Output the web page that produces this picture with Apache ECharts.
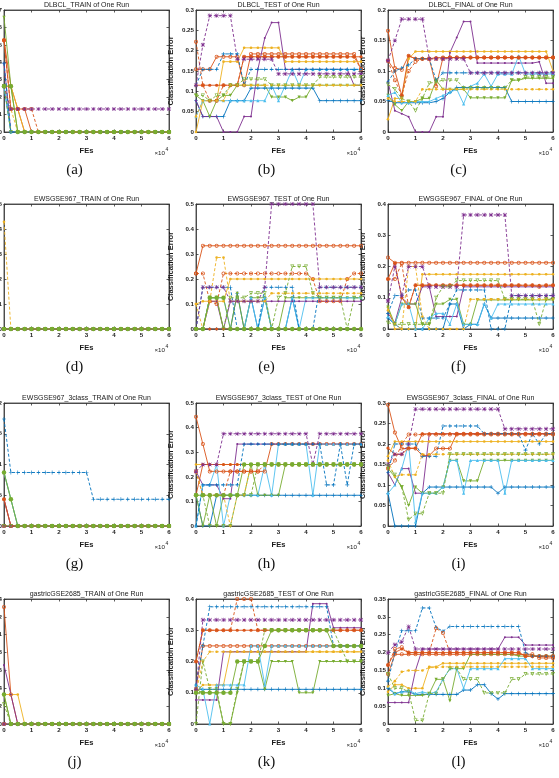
<!DOCTYPE html>
<html><head><meta charset="utf-8">
<script src="https://cdn.jsdelivr.net/npm/echarts/dist/echarts.min.js"></script>
<style>html,body{margin:0;padding:0;background:#fff}#c{width:559px;height:778px}</style>
</head><body><div id="c"></div>
<script>
const FES = [0,2500,5000,7500,10000,12500,15000,17500,20000,22500,25000,27500,30000,32500,35000,37500,40000,42500,45000,47500,50000,52500,55000,57500,60000];
const X_TICK_LABELS = ['0','1','2','3','4','5','6'];
const TITLES = ['DLBCL_TRAIN of One Run','DLBCL_TEST of One Run','DLBCL_FINAL of One Run',
  'EWSGSE967_TRAIN of One Run','EWSGSE967_TEST of One Run','EWSGSE967_FINAL of One Run',
  'EWSGSE967_3class_TRAIN of One Run','EWSGSE967_3class_TEST of One Run','EWSGSE967_3class_FINAL of One Run',
  'gastricGSE2685_TRAIN of One Run','gastricGSE2685_TEST of One Run','gastricGSE2685_FINAL of One Run'];
const CAPTIONS = ['(a)','(b)','(c)','(d)','(e)','(f)','(g)','(h)','(i)','(j)','(k)','(l)'];
const Y_MAX = [0.07,0.3,0.2, 0.5,0.5,0.4, 0.2,0.5,0.3, 0.14,0.4,0.35];
const Y_STEP = [0.01,0.05,0.05, 0.1,0.1,0.1, 0.05,0.1,0.05, 0.02,0.1,0.05];

const DLBCL_TRAIN = [
[0.0263,0,0,0,0, 0,0,0,0,0, 0,0,0,0,0, 0,0,0,0,0, 0,0,0,0,0],
[0.0526,0.0263,0.0132,0,0, 0,0,0,0,0, 0,0,0,0,0, 0,0,0,0,0, 0,0,0,0,0],
[0.0263,0.0263,0.0132,0,0, 0,0,0,0,0, 0,0,0,0,0, 0,0,0,0,0, 0,0,0,0,0],
[0.0395,0,0,0,0, 0,0,0,0,0, 0,0,0,0,0, 0,0,0,0,0, 0,0,0,0,0],
[0.0658,0.0263,0,0,0, 0,0,0,0,0, 0,0,0,0,0, 0,0,0,0,0, 0,0,0,0,0],
[0.0263,0,0,0,0, 0,0,0,0,0, 0,0,0,0,0, 0,0,0,0,0, 0,0,0,0,0],
[0.0526,0.0132,0.0132,0.0132,0, 0,0,0,0,0, 0,0,0,0,0, 0,0,0,0,0, 0,0,0,0,0],
[0.0395,0,0,0,0, 0,0,0,0,0, 0,0,0,0,0, 0,0,0,0,0, 0,0,0,0,0],
[0.0526,0.0132,0.0132,0.0132,0.0132, 0,0,0,0,0, 0,0,0,0,0, 0,0,0,0,0, 0,0,0,0,0],
[0.0263,0.0132,0,0,0, 0,0,0,0,0, 0,0,0,0,0, 0,0,0,0,0, 0,0,0,0,0],
[0.0263,0.0132,0.0132,0.0132,0.0132, 0.0132,0.0132,0.0132,0.0132,0.0132, 0.0132,0.0132,0.0132,0.0132,0.0132, 0.0132,0.0132,0.0132,0.0132,0.0132, 0.0132,0.0132,0.0132,0.0132,0.0132],
[0.0263,0,0,0,0, 0,0,0,0,0, 0,0,0,0,0, 0,0,0,0,0, 0,0,0,0,0],
[0.0263,0.0263,0,0,0, 0,0,0,0,0, 0,0,0,0,0, 0,0,0,0,0, 0,0,0,0,0]
];
const DLBCL_TEST = [
[0.077,0.038,0.038,0.038,0.038, 0.077,0.077,0.077,0.108,0.108, 0.108,0.108,0.108,0.108,0.108, 0.108,0.108,0.108,0.077,0.077, 0.077,0.077,0.077,0.077,0.077],
[0.154,0.154,0.154,0.185,0.185, 0.185,0.185,0.115,0.192,0.192, 0.192,0.192,0.192,0.192,0.192, 0.192,0.192,0.192,0.192,0.192, 0.192,0.192,0.192,0.192,0.154],
[0,0.077,0.077,0.077,0.173, 0.173,0.173,0.207,0.207,0.207, 0.207,0.207,0.207,0.173,0.173, 0.173,0.173,0.173,0.173,0.173, 0.173,0.173,0.173,0.173,0.173],
[0.077,0.038,0.038,0.038,0, 0,0,0.038,0.038,0.154, 0.231,0.269,0.269,0.154,0.154, 0.154,0.154,0.154,0.154,0.154, 0.154,0.154,0.154,0.115,0.115],
[0.09,0.077,0.038,0.077,0.09, 0.09,0.115,0.115,0.115,0.115, 0.115,0.086,0.086,0.086,0.077, 0.086,0.086,0.115,0.115,0.115, 0.115,0.115,0.115,0.115,0.115],
[0.038,0.077,0.077,0.077,0.077, 0.077,0.077,0.077,0.077,0.077, 0.077,0.115,0.077,0.115,0.154, 0.115,0.154,0.154,0.154,0.154, 0.154,0.154,0.154,0.154,0.154],
[0.115,0.115,0.115,0.115,0.115, 0.115,0.115,0.185,0.185,0.185, 0.185,0.185,0.185,0.185,0.185, 0.185,0.185,0.185,0.185,0.185, 0.185,0.185,0.185,0.185,0.185],
[0.115,0.154,0.154,0.154,0.192, 0.192,0.192,0.115,0.154,0.154, 0.154,0.154,0.154,0.154,0.154, 0.154,0.154,0.154,0.154,0.154, 0.154,0.154,0.154,0.154,0.154],
[0.222,0.115,0.077,0.077,0.115, 0.115,0.115,0.185,0.185,0.185, 0.185,0.185,0.185,0.185,0.185, 0.185,0.185,0.185,0.185,0.185, 0.185,0.185,0.185,0.185,0.154],
[0.038,0.077,0.077,0.077,0.077, 0.115,0.115,0.115,0.115,0.115, 0.115,0.115,0.115,0.115,0.115, 0.115,0.115,0.115,0.115,0.115, 0.115,0.115,0.115,0.115,0.115],
[0.115,0.214,0.286,0.286,0.286, 0.286,0.179,0.179,0.179,0.179, 0.179,0.179,0.143,0.143,0.143, 0.143,0.143,0.143,0.143,0.143, 0.143,0.143,0.143,0.143,0.143],
[0.09,0.09,0.077,0.09,0.09, 0.115,0.115,0.13,0.13,0.13, 0.13,0.115,0.115,0.115,0.115, 0.115,0.115,0.115,0.135,0.135, 0.135,0.135,0.135,0.135,0.135],
null
];
const DLBCL_FINAL = [
[0.052,0.048,0.048,0.048,0.048, 0.048,0.048,0.05,0.055,0.065, 0.073,0.073,0.073,0.073,0.073, 0.073,0.073,0.073,0.05,0.05, 0.05,0.05,0.05,0.05,0.05],
[0.166,0.105,0.102,0.125,0.12, 0.12,0.12,0.075,0.122,0.122, 0.122,0.122,0.122,0.122,0.122, 0.122,0.122,0.122,0.122,0.122, 0.122,0.122,0.122,0.122,0.122],
[0.021,0.055,0.055,0.12,0.132, 0.132,0.132,0.132,0.132,0.132, 0.132,0.132,0.132,0.132,0.132, 0.132,0.132,0.132,0.132,0.132, 0.132,0.132,0.132,0.132,0.1],
[0.082,0.035,0.03,0.025,0, 0,0,0.025,0.025,0.13, 0.155,0.181,0.181,0.113,0.113, 0.113,0.113,0.113,0.113,0.113, 0.113,0.113,0.115,0.08,0.08],
[0.06,0.045,0.035,0.05,0.05, 0.055,0.055,0.085,0.07,0.07, 0.07,0.07,0.056,0.056,0.056, 0.056,0.056,0.056,0.085,0.085, 0.088,0.088,0.088,0.088,0.088],
[0.06,0.065,0.048,0.048,0.05, 0.05,0.05,0.055,0.06,0.065, 0.07,0.046,0.075,0.08,0.095, 0.075,0.095,0.095,0.095,0.125, 0.095,0.095,0.095,0.095,0.095],
[0.117,0.1,0.06,0.125,0.12, 0.12,0.12,0.122,0.122,0.122, 0.122,0.122,0.122,0.122,0.122, 0.122,0.122,0.122,0.122,0.122, 0.122,0.122,0.122,0.122,0.122],
[0.082,0.1,0.105,0.11,0.12, 0.12,0.12,0.085,0.097,0.097, 0.097,0.097,0.097,0.097,0.097, 0.097,0.097,0.097,0.097,0.097, 0.097,0.097,0.097,0.097,0.097],
[0.117,0.085,0.06,0.1,0.115, 0.12,0.12,0.12,0.12,0.122, 0.122,0.122,0.122,0.122,0.122, 0.122,0.122,0.122,0.122,0.122, 0.122,0.122,0.122,0.122,0.122],
[0.055,0.05,0.05,0.05,0.05, 0.07,0.07,0.07,0.07,0.07, 0.07,0.07,0.07,0.07,0.07, 0.07,0.07,0.07,0.07,0.07, 0.07,0.07,0.07,0.07,0.07],
[0.117,0.15,0.185,0.185,0.185, 0.185,0.12,0.12,0.12,0.12, 0.12,0.12,0.097,0.097,0.097, 0.097,0.097,0.097,0.097,0.097, 0.097,0.097,0.097,0.097,0.097],
[0.078,0.07,0.055,0.05,0.035, 0.055,0.08,0.082,0.085,0.085, 0.085,0.072,0.072,0.072,0.072, 0.072,0.072,0.072,0.085,0.085, 0.09,0.09,0.09,0.09,0.09],
null
];
const EWS_TRAIN = [
[0,0,0,0,0, 0,0,0,0,0, 0,0,0,0,0, 0,0,0,0,0, 0,0,0,0,0],
[0,0,0,0,0, 0,0,0,0,0, 0,0,0,0,0, 0,0,0,0,0, 0,0,0,0,0],
[0,0,0,0,0, 0,0,0,0,0, 0,0,0,0,0, 0,0,0,0,0, 0,0,0,0,0],
[0,0,0,0,0, 0,0,0,0,0, 0,0,0,0,0, 0,0,0,0,0, 0,0,0,0,0],
[0,0,0,0,0, 0,0,0,0,0, 0,0,0,0,0, 0,0,0,0,0, 0,0,0,0,0],
[0,0,0,0,0, 0,0,0,0,0, 0,0,0,0,0, 0,0,0,0,0, 0,0,0,0,0],
[0,0,0,0,0, 0,0,0,0,0, 0,0,0,0,0, 0,0,0,0,0, 0,0,0,0,0],
[0,0,0,0,0, 0,0,0,0,0, 0,0,0,0,0, 0,0,0,0,0, 0,0,0,0,0],
[0,0,0,0,0, 0,0,0,0,0, 0,0,0,0,0, 0,0,0,0,0, 0,0,0,0,0],
[0.4286,0,0,0,0, 0,0,0,0,0, 0,0,0,0,0, 0,0,0,0,0, 0,0,0,0,0],
[0,0,0,0,0, 0,0,0,0,0, 0,0,0,0,0, 0,0,0,0,0, 0,0,0,0,0],
[0,0,0,0,0, 0,0,0,0,0, 0,0,0,0,0, 0,0,0,0,0, 0,0,0,0,0],
[0,0,0,0,0, 0,0,0,0,0, 0,0,0,0,0, 0,0,0,0,0, 0,0,0,0,0]
];
const EWS_TEST = [
[0,0,0,0,0, 0,0.143,0,0.125,0, 0.125,0,0,0,0.125, 0,0,0,0,0, 0,0,0,0,0],
[0.222,0.333,0.333,0.333,0.333, 0.333,0.333,0.333,0.333,0.333, 0.333,0.333,0.333,0.333,0.333, 0.333,0.333,0.333,0.333,0.333, 0.333,0.333,0.333,0.333,0.333],
[0.1,0.111,0.111,0.111,0.111, 0.2,0.2,0.2,0.2,0.2, 0.2,0.2,0.2,0.2,0.2, 0.2,0.2,0.2,0.2,0.2, 0.2,0.2,0.2,0.2,0.2],
[0,0,0.111,0.111,0, 0.111,0.111,0.111,0.111,0.111, 0.111,0.111,0.111,0.111,0.111, 0.111,0.111,0.111,0.111,0.111, 0.111,0.111,0.111,0.111,0.111],
[0,0,0.125,0.125,0, 0,0.143,0,0.125,0.125, 0.125,0,0,0.125,0.125, 0.125,0.125,0.125,0.125,0.125, 0.125,0.125,0.125,0.125,0.125],
[0,0,0.125,0.125,0.125, 0,0,0,0.125,0, 0.125,0,0,0,0.125, 0,0.125,0.125,0.125,0.125, 0.125,0.125,0.125,0.125,0.125],
[0,0,0,0,0, 0,0,0,0,0, 0,0,0,0,0, 0,0,0,0,0, 0,0,0,0,0],
[0,0.167,0.167,0.167,0.167, 0.167,0,0,0,0, 0.167,0.167,0.167,0.167,0.167, 0,0,0,0.167,0.167, 0.167,0.167,0.167,0.167,0.167],
[0.222,0.222,0.111,0.1,0.222, 0.222,0.222,0.222,0.222,0.222, 0.222,0.222,0.222,0.222,0.222, 0.222,0.222,0.2,0.111,0.111, 0.111,0.111,0.2,0.222,0.222],
[0.1,0,0.111,0.286,0.286, 0.111,0.111,0.111,0.111,0.111, 0.111,0.143,0.143,0.143,0.143, 0.143,0.143,0.143,0.143,0.143, 0.143,0.143,0.143,0.143,0.143],
[0,0.167,0.167,0.167,0.167, 0.111,0.111,0.111,0.111,0.111, 0.167,0.5,0.5,0.5,0.5, 0.5,0.5,0.5,0.167,0.167, 0.167,0.167,0.167,0.167,0.167],
[0,0,0.125,0.125,0, 0.125,0.125,0.125,0.143,0.143, 0.143,0,0.125,0.143,0.25, 0.25,0.25,0.143,0.125,0.125, 0.125,0.125,0,0.125,0.125],
[0,0,0.125,0.125,0.125, 0,0,0,0,0, 0,0,0,0,0, 0,0,0,0,0, 0,0,0,0,0]
];
const EWS_FINAL = [
[0.035,0.015,0,0,0, 0,0,0,0,0.08, 0.08,0,0.015,0.015,0.08, 0.035,0.035,0.035,0.035,0.035, 0.035,0.035,0.035,0.035,0.035],
[0.229,0.212,0.212,0.212,0.212, 0.212,0.212,0.212,0.212,0.212, 0.212,0.212,0.212,0.212,0.212, 0.212,0.212,0.212,0.212,0.212, 0.212,0.212,0.212,0.212,0.212],
[0.07,0,0,0,0, 0.175,0.175,0.175,0.175,0.175, 0.175,0.175,0.175,0.175,0.175, 0.175,0.175,0.175,0.175,0.175, 0.175,0.175,0.175,0.175,0.175],
[0.05,0.02,0.1,0.08,0.08, 0.135,0.135,0.04,0.04,0.04, 0.04,0.135,0.135,0.135,0.135, 0.135,0.135,0.135,0.135,0.135, 0.135,0.135,0.135,0.135,0.135],
[0.07,0.015,0.08,0.08,0.08, 0.015,0.015,0.08,0.08,0.095, 0.095,0.015,0.015,0.093,0.093, 0.093,0.093,0.093,0.093,0.093, 0.093,0.093,0.093,0.093,0.093],
[0.04,0.015,0.08,0.08,0, 0,0.035,0.05,0.05,0.015, 0.08,0.015,0.015,0.015,0.08, 0.035,0.08,0.08,0.08,0.08, 0.08,0.08,0.08,0.08,0.08],
[0.16,0.21,0.1,0.07,0.14, 0.14,0.14,0.14,0.14,0.14, 0.14,0.14,0.14,0.14,0.14, 0.14,0.14,0.14,0.14,0.14, 0.14,0.14,0.14,0.14,0.14],
[0.05,0.107,0.107,0.125,0.125, 0.035,0.035,0.035,0.035,0.08, 0.125,0.125,0.125,0.125,0.125, 0,0,0,0.107,0.107, 0.107,0.107,0.107,0.107,0.107],
[0.16,0.16,0.21,0.07,0.14, 0.14,0.14,0.14,0.14,0.14, 0.14,0.14,0.14,0.14,0.14, 0.14,0.14,0.14,0.14,0.14, 0.14,0.14,0.135,0.14,0.14],
[0.06,0.015,0,0.2,0.2, 0.04,0,0,0,0, 0,0,0.095,0.095,0.095, 0.095,0.095,0.095,0.095,0.095, 0.095,0.095,0.095,0.095,0.095],
[0.09,0.2,0.107,0.2,0.2, 0.2,0.135,0.135,0.135,0.135, 0.135,0.365,0.365,0.365,0.365, 0.365,0.365,0.365,0.107,0.107, 0.107,0.107,0.107,0.107,0.107],
[0.02,0.015,0.015,0.015,0.015, 0.015,0.015,0.1,0.135,0.135, 0.155,0.155,0.155,0.155,0.155, 0.155,0.155,0.095,0.095,0.095, 0.095,0.095,0.015,0.095,0.095],
null
];
const EWS3_TRAIN = [
[0,0,0,0,0, 0,0,0,0,0, 0,0,0,0,0, 0,0,0,0,0, 0,0,0,0,0],
[0.0435,0,0,0,0, 0,0,0,0,0, 0,0,0,0,0, 0,0,0,0,0, 0,0,0,0,0],
[0,0,0,0,0, 0,0,0,0,0, 0,0,0,0,0, 0,0,0,0,0, 0,0,0,0,0],
[0.0435,0,0,0,0, 0,0,0,0,0, 0,0,0,0,0, 0,0,0,0,0, 0,0,0,0,0],
[0.087,0.0435,0,0,0, 0,0,0,0,0, 0,0,0,0,0, 0,0,0,0,0, 0,0,0,0,0],
[0.087,0.0435,0,0,0, 0,0,0,0,0, 0,0,0,0,0, 0,0,0,0,0, 0,0,0,0,0],
[0.0435,0,0,0,0, 0,0,0,0,0, 0,0,0,0,0, 0,0,0,0,0, 0,0,0,0,0],
[0.1739,0.087,0.087,0.087,0.087, 0.087,0.087,0.087,0.087,0.087, 0.087,0.087,0.087,0.0435,0.0435, 0.0435,0.0435,0.0435,0.0435,0.0435, 0.0435,0.0435,0.0435,0.0435,0.0435],
[0,0,0,0,0, 0,0,0,0,0, 0,0,0,0,0, 0,0,0,0,0, 0,0,0,0,0],
[0,0,0,0,0, 0,0,0,0,0, 0,0,0,0,0, 0,0,0,0,0, 0,0,0,0,0],
[0,0,0,0,0, 0,0,0,0,0, 0,0,0,0,0, 0,0,0,0,0, 0,0,0,0,0],
[0,0,0,0,0, 0,0,0,0,0, 0,0,0,0,0, 0,0,0,0,0, 0,0,0,0,0],
[0.087,0.0435,0,0,0, 0,0,0,0,0, 0,0,0,0,0, 0,0,0,0,0, 0,0,0,0,0]
];
const EWS3_TEST = [
[0.125,0,0,0.125,0.125, 0.125,0.125,0.125,0.125,0.125, 0.125,0.125,0.125,0.125,0.125, 0.125,0.125,0.125,0.125,0.125, 0.125,0.125,0.125,0.125,0.125],
[0.444,0.333,0.222,0.222,0.222, 0.222,0.222,0.222,0.222,0.222, 0.222,0.333,0.333,0.333,0.333, 0.333,0.333,0.333,0.333,0.333, 0.333,0.333,0.333,0.333,0.333],
[0.25,0.25,0.25,0.25,0.25, 0.25,0.25,0.25,0.25,0.25, 0.25,0.25,0.25,0.25,0.25, 0.25,0.25,0.25,0.25,0.25, 0.25,0.25,0.25,0.25,0.25],
[0.222,0.167,0.167,0.167,0.111, 0.111,0.333,0.333,0.333,0.333, 0.333,0.333,0.333,0.333,0.333, 0.333,0.333,0.333,0.333,0.333, 0.333,0.333,0.333,0.333,0.333],
[0.125,0,0.125,0,0.125, 0.125,0.125,0.125,0.25,0.125, 0.125,0.125,0.125,0.25,0.25, 0.25,0.25,0.25,0.25,0.25, 0.25,0.25,0.25,0.25,0.25],
[0,0.167,0.167,0.25,0, 0.125,0.125,0.125,0.125,0.125, 0.25,0.125,0.333,0.333,0.333, 0.333,0.333,0.125,0.333,0.333, 0.333,0.333,0.333,0.333,0.333],
[0.125,0.25,0.25,0.25,0.25, 0.25,0.25,0.25,0.25,0.25, 0.25,0.25,0.25,0.25,0.25, 0.25,0.25,0.25,0.25,0.25, 0.25,0.25,0.25,0.25,0.25],
[0,0.167,0.167,0.167,0.167, 0.167,0.167,0.333,0.333,0.333, 0.333,0.333,0.333,0.333,0.333, 0.333,0.333,0.333,0.333,0.167, 0.167,0.333,0.167,0.333,0.333],
[0.222,0.125,0.125,0.125,0.125, 0.222,0.222,0.222,0.222,0.222, 0.25,0.25,0.25,0.25,0.25, 0.25,0.25,0.25,0.25,0.25, 0.25,0.25,0.25,0.25,0.25],
[0.222,0.125,0.125,0.125,0.125, 0,0.125,0.125,0.25,0.25, 0.25,0.25,0.25,0.25,0.25, 0.25,0.25,0.25,0.25,0.25, 0.25,0.25,0.25,0.25,0.25],
[0.222,0.25,0.25,0.25,0.375, 0.375,0.375,0.375,0.375,0.375, 0.375,0.375,0.375,0.375,0.375, 0.375,0.375,0.25,0.375,0.375, 0.375,0.375,0.375,0.375,0.375],
[0.125,0.125,0,0,0, 0,0.125,0.125,0.125,0.25, 0.25,0.25,0.25,0.25,0.25, 0.25,0.25,0.25,0.25,0.25, 0.25,0.25,0.25,0.25,0.25],
[0.125,0.125,0.125,0.125,0.125, 0.125,0.125,0.25,0.25,0.25, 0.25,0.25,0.25,0.25,0.25, 0.25,0.25,0.25,0.25,0.25, 0.25,0.25,0.25,0.25,0.25]
];
const EWS3_FINAL = [
[0.08,0,0,0,0, 0.08,0.095,0.095,0.095,0.095, 0.095,0.095,0.095,0.095,0.095, 0.095,0.08,0.095,0.095,0.095, 0.095,0.095,0.095,0.095,0.095],
[0.296,0.228,0.189,0.189,0.189, 0.172,0.172,0.189,0.189,0.189, 0.225,0.225,0.225,0.225,0.225, 0.225,0.225,0.225,0.225,0.225, 0.225,0.225,0.225,0.225,0.225],
[0.17,0.206,0.206,0.206,0.206, 0.206,0.206,0.206,0.206,0.206, 0.206,0.206,0.206,0.206,0.206, 0.206,0.206,0.206,0.206,0.206, 0.206,0.206,0.206,0.206,0.206],
[0.13,0.1,0.14,0.14,0.08, 0.08,0.225,0.225,0.225,0.225, 0.225,0.225,0.225,0.225,0.225, 0.225,0.225,0.225,0.225,0.225, 0.225,0.225,0.225,0.225,0.225],
[0.14,0.12,0.095,0.05,0.095, 0.08,0.08,0.08,0.095,0.16, 0.16,0.11,0.11,0.11,0.16, 0.16,0.16,0.16,0.16,0.16, 0.16,0.16,0.16,0.16,0.16],
[0.08,0.1,0.14,0.2,0.01, 0.08,0.08,0.08,0.095,0.16, 0.16,0.08,0.16,0.16,0.16, 0.16,0.16,0.08,0.16,0.16, 0.16,0.16,0.16,0.16,0.16],
[0.19,0.175,0.175,0.19,0.19, 0.225,0.225,0.225,0.225,0.225, 0.225,0.225,0.225,0.225,0.225, 0.225,0.225,0.225,0.225,0.225, 0.225,0.225,0.225,0.225,0.225],
[0.13,0.2,0.2,0.2,0.2, 0.17,0.17,0.17,0.244,0.244, 0.244,0.244,0.244,0.244,0.225, 0.225,0.225,0.225,0.225,0.225, 0.185,0.225,0.2,0.225,0.225],
[0.14,0.16,0.2,0.223,0.223, 0.223,0.223,0.223,0.223,0.223, 0.223,0.223,0.223,0.223,0.223, 0.223,0.223,0.223,0.223,0.223, 0.223,0.223,0.223,0.223,0.223],
[0.16,0.12,0.125,0.125,0.125, 0.175,0.175,0.175,0.175,0.175, 0.175,0.175,0.175,0.175,0.175, 0.175,0.175,0.175,0.175,0.175, 0.175,0.175,0.175,0.175,0.175],
[0.15,0.175,0.175,0.2,0.285, 0.285,0.285,0.285,0.285,0.285, 0.285,0.285,0.285,0.285,0.285, 0.285,0.285,0.237,0.237,0.237, 0.237,0.237,0.237,0.237,0.237],
[0.145,0.125,0.095,0.015,0.03, 0.03,0.08,0.08,0.08,0.175, 0.175,0.175,0.175,0.175,0.175, 0.175,0.175,0.175,0.175,0.175, 0.175,0.175,0.175,0.175,0.175],
null
];
const GAS_TRAIN = [
[0,0,0,0,0, 0,0,0,0,0, 0,0,0,0,0, 0,0,0,0,0, 0,0,0,0,0],
[0.131,0.033,0,0,0, 0,0,0,0,0, 0,0,0,0,0, 0,0,0,0,0, 0,0,0,0,0],
[0.033,0.033,0.033,0,0, 0,0,0,0,0, 0,0,0,0,0, 0,0,0,0,0, 0,0,0,0,0],
[0.066,0.033,0,0,0, 0,0,0,0,0, 0,0,0,0,0, 0,0,0,0,0, 0,0,0,0,0],
[0.033,0,0,0,0, 0,0,0,0,0, 0,0,0,0,0, 0,0,0,0,0, 0,0,0,0,0],
[0,0,0,0,0, 0,0,0,0,0, 0,0,0,0,0, 0,0,0,0,0, 0,0,0,0,0],
[0,0,0,0,0, 0,0,0,0,0, 0,0,0,0,0, 0,0,0,0,0, 0,0,0,0,0],
[0,0,0,0,0, 0,0,0,0,0, 0,0,0,0,0, 0,0,0,0,0, 0,0,0,0,0],
[0,0,0,0,0, 0,0,0,0,0, 0,0,0,0,0, 0,0,0,0,0, 0,0,0,0,0],
[0,0,0,0,0, 0,0,0,0,0, 0,0,0,0,0, 0,0,0,0,0, 0,0,0,0,0],
[0,0,0,0,0, 0,0,0,0,0, 0,0,0,0,0, 0,0,0,0,0, 0,0,0,0,0],
[0.022,0,0,0,0, 0,0,0,0,0, 0,0,0,0,0, 0,0,0,0,0, 0,0,0,0,0],
[0.033,0,0,0,0, 0,0,0,0,0, 0,0,0,0,0, 0,0,0,0,0, 0,0,0,0,0]
];
const GAS_TEST = [
[0.111,0.111,0.111,0.111,0.111, 0.111,0.111,0.111,0.111,0.111, 0.111,0.111,0.111,0.111,0.111, 0.111,0.111,0.111,0.111,0.111, 0.111,0.111,0.111,0.111,0.111],
[0.111,0.25,0.25,0.25,0.25, 0.25,0.25,0.25,0.25,0.25, 0.25,0.25,0.25,0.25,0.25, 0.25,0.25,0.25,0.25,0.25, 0.25,0.25,0.25,0.25,0.25],
[0.1,0.125,0.125,0.125,0.125, 0.231,0.231,0.231,0.231,0.231, 0.231,0.231,0.231,0.231,0.231, 0.231,0.231,0.231,0.231,0.231, 0.231,0.231,0.231,0.231,0.231],
[0.077,0.077,0.077,0.077,0.231, 0.231,0.231,0.231,0.231,0.231, 0.231,0.231,0.231,0.231,0.231, 0.231,0.231,0.385,0.385,0.385, 0.308,0.308,0.308,0.308,0.308],
[0.111,0.1,0.1,0.1,0, 0,0.1,0.2,0.2,0.2, 0.111,0.2,0.2,0.2,0.2, 0.1,0.1,0.1,0.2,0.2, 0.2,0.2,0.2,0.2,0.2],
[0.125,0.111,0,0.125,0.125, 0.125,0.125,0.125,0.25,0.25, 0.125,0.25,0.25,0.25,0.25, 0.25,0.25,0.25,0.25,0.25, 0.25,0.25,0.25,0.25,0.25],
[0.2,0.3,0.3,0.3,0.3, 0.3,0.3,0.3,0.3,0.3, 0.3,0.3,0.3,0.3,0.3, 0.3,0.3,0.3,0.3,0.3, 0.3,0.3,0.3,0.3,0.3],
[0.125,0.25,0.375,0.375,0.375, 0.375,0.375,0.375,0.375,0.375, 0.375,0.375,0.375,0.375,0.375, 0.375,0.375,0.375,0.375,0.375, 0.25,0.25,0.25,0.25,0.25],
[0.2,0.3,0.3,0.3,0.3, 0.3,0.4,0.4,0.4,0.3, 0.3,0.3,0.3,0.3,0.3, 0.3,0.3,0.3,0.3,0.3, 0.3,0.3,0.3,0.3,0.3],
[0.1,0.2,0.231,0.231,0.231, 0.231,0.231,0.231,0.231,0.231, 0.231,0.231,0.231,0.231,0.231, 0.231,0.231,0.231,0.231,0.231, 0.231,0.231,0.231,0.231,0.231],
[0.111,0.333,0.333,0.333,0.333, 0.333,0.333,0.333,0.333,0.333, 0.333,0.333,0.333,0.333,0.333, 0.333,0.333,0.333,0.333,0.333, 0.333,0.333,0.333,0.333,0.333],
[0,0.2,0.111,0.111,0, 0,0.111,0.2,0.2,0.2, 0.3,0.3,0.3,0.3,0.3, 0.3,0.3,0.3,0.3,0.3, 0.3,0.25,0.2,0.2,0.2],
[0.1,0.1,0.1,0.1,0.1, 0.1,0.2,0.2,0.2,0.2, 0.25,0.3,0.3,0.3,0.3, 0.3,0.3,0.3,0.3,0.3, 0.25,0.25,0.25,0.25,0.25]
];
const GAS_FINAL = [
[0.1,0.085,0.09,0.09,0.083, 0.083,0.083,0.083,0.083,0.083, 0.083,0.095,0.095,0.11,0.11, 0.085,0.07,0.085,0.085,0.085, 0.085,0.085,0.085,0.085,0.085],
[0.14,0.195,0.195,0.195,0.195, 0.195,0.195,0.195,0.195,0.195, 0.195,0.195,0.195,0.195,0.195, 0.195,0.195,0.195,0.195,0.195, 0.195,0.195,0.185,0.185,0.185],
[0.09,0.11,0.11,0.1,0.1, 0.1,0.16,0.16,0.17,0.17, 0.17,0.17,0.17,0.17,0.17, 0.17,0.17,0.17,0.17,0.17, 0.17,0.17,0.17,0.17,0.17],
[0.06,0.06,0.06,0.06,0.15, 0.21,0.21,0.21,0.21,0.21, 0.21,0.21,0.21,0.21,0.21, 0.21,0.21,0.243,0.243,0.243, 0.221,0.221,0.221,0.221,0.221],
[0.08,0.085,0.08,0.08,0.08, 0.08,0.085,0.125,0.125,0.065, 0.155,0.155,0.195,0.195,0.195, 0.195,0.195,0.195,0.195,0.19, 0.19,0.19,0.19,0.19,0.19],
[0.105,0.085,0.09,0.095,0.085, 0.09,0.085,0.09,0.125,0.155, 0.155,0.1,0.155,0.155,0.155, 0.155,0.155,0.183,0.183,0.183, 0.183,0.155,0.155,0.155,0.155],
[0.165,0.2,0.21,0.2,0.2, 0.2,0.2,0.2,0.2,0.2, 0.2,0.2,0.2,0.2,0.2, 0.2,0.2,0.2,0.2,0.2, 0.19,0.19,0.19,0.19,0.19],
[0.12,0.2,0.261,0.261,0.261, 0.325,0.325,0.27,0.26,0.273, 0.273,0.273,0.273,0.273,0.273, 0.273,0.273,0.273,0.273,0.273, 0.2,0.19,0.19,0.19,0.19],
[0.165,0.21,0.215,0.2,0.2, 0.2,0.2,0.268,0.255,0.2, 0.2,0.2,0.2,0.2,0.2, 0.2,0.2,0.2,0.2,0.2, 0.19,0.19,0.19,0.19,0.19],
[0.105,0.12,0.146,0.15,0.15, 0.15,0.158,0.158,0.16,0.16, 0.16,0.16,0.16,0.16,0.16, 0.16,0.16,0.16,0.16,0.16, 0.16,0.16,0.16,0.16,0.16],
[0.2,0.222,0.23,0.273,0.21, 0.21,0.21,0.21,0.21,0.21, 0.21,0.21,0.21,0.21,0.21, 0.21,0.21,0.21,0.21,0.21, 0.21,0.21,0.21,0.21,0.21],
[0.14,0.1,0.1,0.09,0.01, 0.01,0.085,0.085,0.125,0.155, 0.155,0.125,0.125,0.125,0.087, 0.087,0.087,0.087,0.125,0.125, 0.14,0.14,0.14,0.14,0.14],
null
];
const PLOT_DATA = [DLBCL_TRAIN,DLBCL_TEST,DLBCL_FINAL,EWS_TRAIN,EWS_TEST,EWS_FINAL,EWS3_TRAIN,EWS3_TEST,EWS3_FINAL,GAS_TRAIN,GAS_TEST,GAS_FINAL];

// series styles (MATLAB-like markers)
const SYM_PLUS = 'path://M3.4,0h1.2v8h-1.2z M0,3.4h8v1.2h-8z';
const SYM_STAR = 'path://M3.5,0h1v8h-1z M0,3.5h8v1h-8z M0.7,0L8,7.3L7.3,8L0,0.7z M7.3,0L8,0.7L0.7,8L0,7.3z';
const SYM_RING = 'path://M4,0A4,4 0 1,1 4,8A4,4 0 1,1 4,0Z M4,1.5A2.5,2.5 0 1,0 4,6.5A2.5,2.5 0 1,0 4,1.5Z';
const SYM_VOPEN = 'path://M0,0L8,0L4,7Z M1.9,1.1L4,4.8L6.1,1.1Z';
const STYLES = [
  {c:'#0072BD', d:false, s:SYM_PLUS, z:4, r:0},
  {c:'#D95319', d:false, s:SYM_RING, z:4, r:0},
  {c:'#EDB120', d:false, s:'circle', z:2.6, r:0},
  {c:'#7E2F8E', d:false, s:'circle', z:2, r:0},
  {c:'#77AC30', d:false, s:'triangle', z:3.2, r:180},
  {c:'#4DBEEE', d:false, s:'triangle', z:3.2, r:0},
  {c:'#D95319', d:false, s:'circle', z:3.2, r:0},
  {c:'#0072BD', d:true, s:SYM_PLUS, z:4, r:0},
  {c:'#D95319', d:true, s:SYM_RING, z:4, r:0},
  {c:'#EDB120', d:true, s:'circle', z:2.6, r:0},
  {c:'#7E2F8E', d:true, s:SYM_STAR, z:4.2, r:0},
  {c:'#77AC30', d:true, s:SYM_VOPEN, z:4, r:0},
  {c:'#77AC30', d:false, s:'circle', z:4.5, r:0}
];

const COL_LEFT = [4,196,388], COL_W = 165;
const ROW_TOP = [10,204,403,599], ROW_H = [122,125,123,125];
const FONT = 'Liberation Sans, Arial, sans-serif';
const AX = '#333';

const grids=[], xAxes=[], yAxes=[], series=[], graphics=[];
for (let p=0;p<12;p++){
  const r=Math.floor(p/3), c=p%3;
  const L=COL_LEFT[c], T=ROW_TOP[r], W=COL_W, H=ROW_H[r];
  grids.push({left:L, top:T, width:W, height:H, show:true, borderColor:AX, borderWidth:0.8,
    backgroundColor:'#fff', containLabel:false, outerBoundsMode:'none'});
  const xb = {gridIndex:p, type:'value', min:0, max:60000, interval:10000,
    axisLine:{show:true, onZero:false, lineStyle:{color:AX, width:0.8}},
    axisTick:{show:true, inside:true, length:2.5, lineStyle:{color:AX, width:0.8}},
    splitLine:{show:false}};
  xAxes.push(Object.assign({}, xb, {position:'bottom',
    axisLabel:{show:true, fontSize:6.2, fontWeight:'bold', color:'#222', margin:3, fontFamily:FONT,
      formatter:(v)=>X_TICK_LABELS[Math.round(v/10000)]},
    name:'FEs', nameLocation:'middle', nameGap:15,
    nameTextStyle:{fontSize:7.5, fontWeight:'bold', color:'#1a1a1a', fontFamily:FONT}}));
  xAxes.push(Object.assign({}, xb, {position:'top', axisLabel:{show:false}}));
  const yb = {gridIndex:p, type:'value', min:0, max:Y_MAX[p], interval:Y_STEP[p],
    axisLine:{show:true, onZero:false, lineStyle:{color:AX, width:0.8}},
    axisTick:{show:true, inside:true, length:2.5, lineStyle:{color:AX, width:0.8}},
    splitLine:{show:false}};
  yAxes.push(Object.assign({}, yb, {position:'left',
    axisLabel:{show:true, fontSize:6.2, fontWeight:'bold', color:'#222', margin:2, fontFamily:FONT,
      formatter:(v)=>String(Math.round(v*1000)/1000)},
    name:'Classification Error', nameLocation:'middle', nameGap:21, nameRotate:90,
    nameTextStyle:{fontSize:7.5, fontWeight:'bold', color:'#1a1a1a', fontFamily:FONT}}));
  yAxes.push(Object.assign({}, yb, {position:'right', axisLabel:{show:false}}));

  const D = PLOT_DATA[p];
  for (let s=0;s<STYLES.length;s++){
    const arr = D[s];
    if (!arr) continue;
    const st = STYLES[s];
    series.push({type:'line', xAxisIndex:2*p, yAxisIndex:2*p,
      data: FES.map((x,i)=>[x, arr[i]]),
      symbol: st.s, symbolSize: st.z, symbolRotate: st.r, showSymbol:true, showAllSymbol:true,
      lineStyle:{color:st.c, width:0.9, type: st.d ? [3,2] : 'solid'},
      itemStyle:{color:st.c, borderWidth:0},
      emphasis:{disabled:true}, silent:true, animation:false, clip:true});
  }
  graphics.push({type:'text', x:L+W/2, y:T-1,
    style:{text:TITLES[p], fontSize:7, fontFamily:FONT, fill:'#1a1a1a',
      align:'center', verticalAlign:'bottom', textAlign:'center', textVerticalAlign:'bottom'}});
  graphics.push({type:'text', x:L+W-4, y:T+H+21,
    style:{text:'×10', fontSize:6.2, fontFamily:FONT, fill:'#1a1a1a',
      align:'right', verticalAlign:'middle', textAlign:'right', textVerticalAlign:'middle'}});
  graphics.push({type:'text', x:L+W-3.5, y:T+H+18,
    style:{text:'4', fontSize:5, fontFamily:FONT, fill:'#1a1a1a',
      align:'left', verticalAlign:'middle', textAlign:'left', textVerticalAlign:'middle'}});
  graphics.push({type:'text', x:L+W/2-12, y:T+H+38,
    style:{text:CAPTIONS[p], fontSize:15, fontFamily:'Liberation Serif, DejaVu Serif, serif', fill:'#111',
      align:'center', verticalAlign:'middle', textAlign:'center', textVerticalAlign:'middle'}});
}

const chart = echarts.init(document.getElementById('c'), null, {renderer:'canvas'});
chart.setOption({
  animation:false,
  backgroundColor:'#fff',
  textStyle:{fontFamily:FONT},
  grid:grids, xAxis:xAxes, yAxis:yAxes, series:series,
  graphic:{elements:graphics}
});
</script>
</body></html>
